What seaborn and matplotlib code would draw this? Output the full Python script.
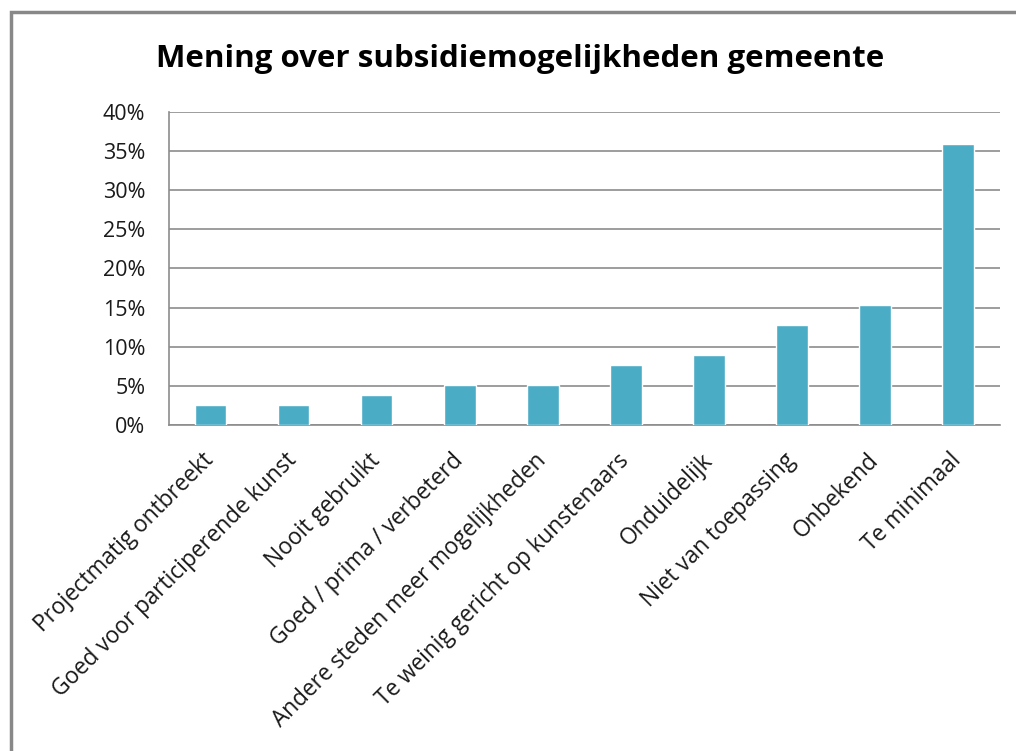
import matplotlib
matplotlib.use("Agg")
import matplotlib.pyplot as plt
import matplotlib.patches as mpatches
import seaborn as sns
import pandas as pd
from matplotlib.ticker import PercentFormatter

# --- DATA ---
categorias = [
    "Projectmatig ontbreekt",
    "Goed voor participerende kunst",
    "Nooit gebruikt",
    "Goed / prima / verbeterd",
    "Andere steden meer mogelijkheden",
    "Te weinig gericht op kunstenaars",
    "Onduidelijk",
    "Niet van toepassing",
    "Onbekend",
    "Te minimaal",
]
percentages = [2.56, 2.56, 3.85, 5.13, 5.13, 7.69, 8.97, 12.82, 15.38, 35.90]
y_ticks = [0, 5, 10, 15, 20, 25, 30, 35, 40]

titulo = "Mening over subsidiemogelijkheden gemeente"
cor_barra = "#4BACC6"
cor_grade = "#8C8C8C"

df = pd.DataFrame({"categoria": categorias, "pct": percentages})

sns.set_style("white")
plt.rcParams['font.family'] = ['Open Sans', 'DejaVu Sans']

fig = plt.figure(figsize=(10.16, 7.51), dpi=100)
ax = fig.add_axes([0.1663, 0.434, 0.8177, 0.417])

sns.barplot(data=df, x="categoria", y="pct", color=cor_barra, width=0.38,
            saturation=1, ax=ax, zorder=3)

ax.set_ylim(0, 40)
ax.set_yticks(y_ticks)
ax.yaxis.set_major_formatter(PercentFormatter(decimals=0))
ax.set_xlim(-0.5, len(categorias) - 0.5)
ax.grid(axis="y", color=cor_grade, linewidth=1.2, zorder=0)
ax.set_xlabel("")
ax.set_ylabel("")

for lado in ["top", "right"]:
    ax.spines[lado].set_visible(False)
for lado in ["left", "bottom"]:
    ax.spines[lado].set_color(cor_grade)
    ax.spines[lado].set_linewidth(1.2)

ax.tick_params(axis="y", length=0, pad=17, labelsize=15.5, labelcolor="#1a1a1a")
ax.tick_params(axis="x", length=0, pad=23, labelsize=16.3, labelcolor="#1a1a1a")
plt.setp(ax.get_xticklabels(), rotation=45, ha="right", va="center",
         rotation_mode="anchor")

fig.text(0.512, 0.921, titulo, ha="center", va="center",
         fontsize=22.5, fontweight="bold", color="black")

# moldura do grafico (borda cinza do Excel)
moldura = mpatches.Rectangle((11 / 1016, -0.05), 1.1, 1 - 12 / 751 + 0.05,
                             transform=fig.transFigure, fill=False,
                             edgecolor="#888888", linewidth=2.5)
fig.patches.append(moldura)

fig.savefig("out.png", dpi=100)
